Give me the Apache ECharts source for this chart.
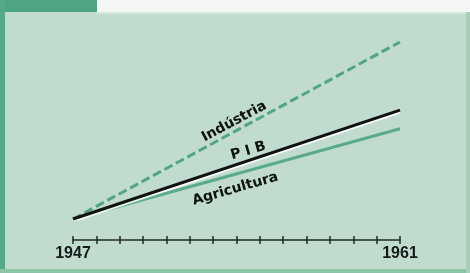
<!DOCTYPE html>
<html>
<head>
<meta charset="utf-8">
<script src="https://cdn.jsdelivr.net/npm/echarts@6/dist/echarts.min.js"></script>
<style>
html, body { margin: 0; padding: 0; }
#chart { width: 470px; height: 273px; }
</style>
</head>
<body>
<div id="chart"></div>
<script>
// index, 1947 = 100
const years = [1947, 1961]
const industria = [100, 300]
const pib = [100, 223]
const agricultura = [100, 202]
const tickLabels = ['1947', '1961']

function pairs (vals) {
  return years.map((y, i) => [y, vals[i]])
}

const chart = echarts.init(document.getElementById('chart'))

const labelFont = {
  fontFamily: 'DejaVu Sans',
  fontWeight: 'bold',
  fontSize: 14,
  color: '#0e120f'
}

function tag (text, coord, rot, size) {
  return {
    symbol: 'circle',
    symbolSize: 0,
    silent: true,
    data: [{
      coord: coord,
      label: Object.assign({
        show: true,
        formatter: text,
        position: 'inside',
        rotate: rot
      }, labelFont, size ? {fontSize: size} : {})
    }]
  }
}

chart.setOption({
  backgroundColor: '#c1dccf',
  animation: false,
  graphic: [
    {type: 'rect', shape: {x: 97, y: 0, width: 373, height: 12}, style: {fill: '#f3f6f4'}},
    {type: 'rect', shape: {x: 0, y: 0, width: 97, height: 12}, style: {fill: '#4da681'}},
    {type: 'rect', shape: {x: 0, y: 0, width: 5, height: 273}, style: {fill: '#55ab87'}},
    {type: 'rect', shape: {x: 97, y: 12, width: 373, height: 2}, style: {fill: '#d6e8de'}},
    {type: 'rect', shape: {x: 0, y: 269, width: 470, height: 4}, style: {fill: '#8cc4a8'}},
    {type: 'rect', shape: {x: 466, y: 12, width: 4, height: 261}, style: {fill: '#a9cfbb'}}
  ],
  grid: {left: 73, right: 70, top: 42, bottom: 54},
  xAxis: [
    {
      type: 'value',
      min: 1947,
      max: 1961,
      interval: 1,
      position: 'bottom',
      offset: 21,
      splitLine: {show: false},
      axisLine: {lineStyle: {color: '#1f2a24', width: 1.5}},
      axisTick: {inside: true, length: 4, lineStyle: {color: '#1f2a24', width: 1.5}},
      axisLabel: {
        margin: 6,
        fontFamily: 'Liberation Sans',
        fontWeight: 'bold',
        fontSize: 16,
        color: '#151a17',
        formatter: v => (tickLabels.indexOf(String(v)) >= 0 ? String(v) : '')
      }
    },
    {
      type: 'value',
      min: 1947,
      max: 1961,
      interval: 1,
      position: 'bottom',
      offset: 21,
      splitLine: {show: false},
      axisLine: {show: false},
      axisTick: {length: 4, lineStyle: {color: '#1f2a24', width: 1.5}},
      axisLabel: {show: false}
    }
  ],
  yAxis: {
    type: 'value',
    min: 100,
    max: 300,
    show: false,
    splitLine: {show: false}
  },
  series: [
    {
      name: 'Indústria',
      type: 'line',
      data: pairs(industria),
      symbol: 'none',
      lineStyle: {color: '#52a582', width: 3, type: [9, 4]},
      markPoint: tag('Indústria', [1953.9, 210], 28)
    },
    {
      name: 'Agricultura',
      type: 'line',
      data: pairs(agricultura),
      symbol: 'none',
      lineStyle: {color: '#5aab89', width: 3},
      markPoint: tag('Agricultura', [1953.95, 134], 16)
    },
    {
      name: 'PIB',
      type: 'line',
      data: pairs(pib),
      symbol: 'none',
      lineStyle: {
        color: '#101311',
        width: 3,
        shadowColor: 'rgba(255,255,255,0.85)',
        shadowBlur: 0,
        shadowOffsetY: 2
      },
      markPoint: tag('P I B', [1954.5, 177], 16, 14)
    }
  ]
})
</script>
</body>
</html>
